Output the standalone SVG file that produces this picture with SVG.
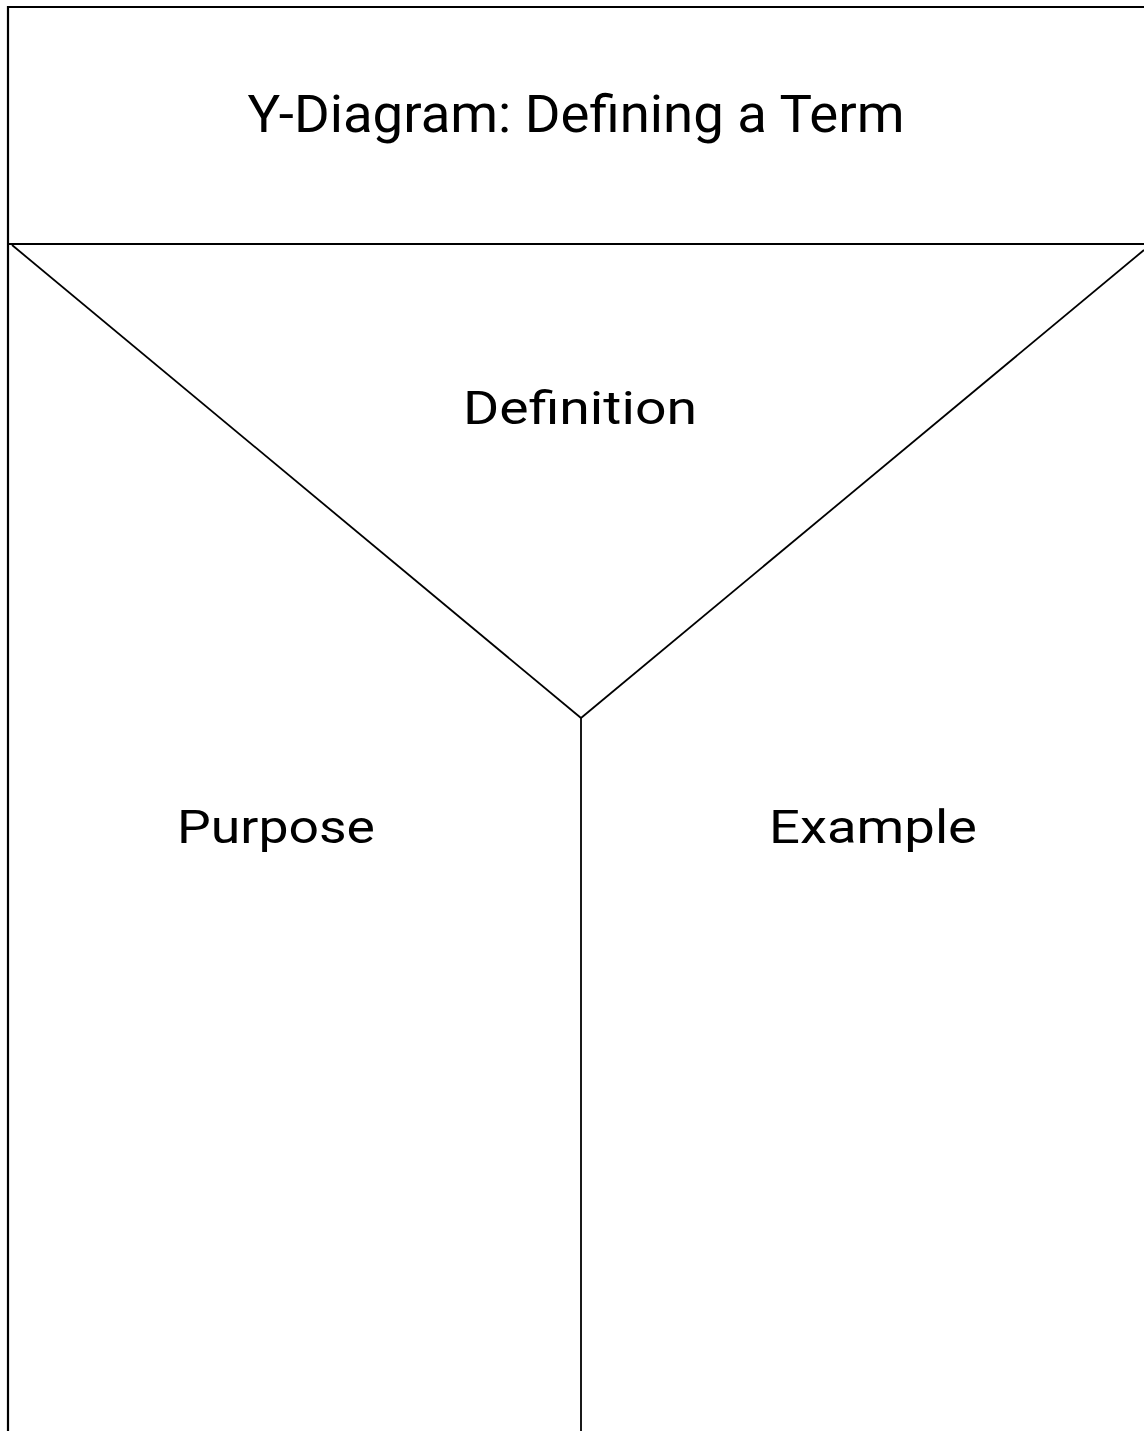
<svg xmlns="http://www.w3.org/2000/svg" width="1144" height="1431" viewBox="0 0 1144 1431">
<style>
.ln{stroke:#000;stroke-width:1.8;fill:none}
.bd{stroke:#000;stroke-width:2.2;fill:none}
.t{font-family:Roboto,"Liberation Sans",Arial,sans-serif;fill:#000;text-anchor:middle}
</style>
<rect width="1144" height="1431" fill="#fff"/>
<g id="connectors">
<path class="bd" d="M8,1431 V7 H1144"/>
<line class="ln" x1="8" y1="244" x2="1144" y2="244"/>
<line class="ln" x1="12" y1="245" x2="581" y2="718"/>
<line class="ln" x1="1144" y1="250" x2="581" y2="718"/>
<line class="ln" x1="581" y1="718" x2="581" y2="1431"/>
</g>
<g id="title"><text class="t" x="576" y="132" font-size="51" textLength="657" lengthAdjust="spacingAndGlyphs">Y-Diagram: Defining a Term</text></g>
<g id="definition"><text class="t" x="580" y="424" font-size="47" textLength="234" lengthAdjust="spacingAndGlyphs">Definition</text></g>
<g id="purpose"><text class="t" x="276" y="843" font-size="47" textLength="198" lengthAdjust="spacingAndGlyphs">Purpose</text></g>
<g id="example"><text class="t" x="873" y="843" font-size="47" textLength="208" lengthAdjust="spacingAndGlyphs">Example</text></g>
</svg>
